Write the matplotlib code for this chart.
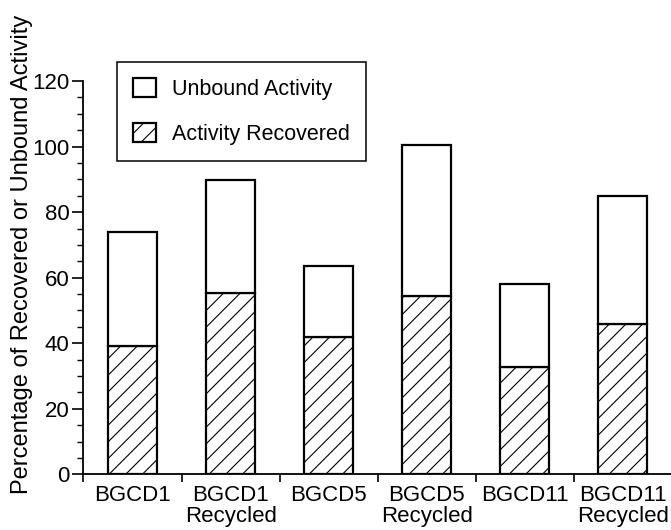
import matplotlib
matplotlib.use('Agg')
import matplotlib.pyplot as plt
from matplotlib.ticker import MultipleLocator, FixedLocator
import numpy as np

plt.rcParams['font.family'] = ['Liberation Sans', 'DejaVu Sans']
plt.rcParams['hatch.linewidth'] = 0.8

muestras = ['BGCD1', 'BGCD1\nRecycled', 'BGCD5', 'BGCD5\nRecycled',
            'BGCD11', 'BGCD11\nRecycled']
recuperada = [39.2, 55.3, 42.0, 54.5, 32.7, 45.9]
no_unida = [34.7, 34.5, 21.6, 46.0, 25.3, 39.0]

x = np.arange(1, len(muestras) + 1)

fig = plt.figure(figsize=(6.71, 5.30), dpi=100)
ax = fig.add_axes([0.1244, 0.105, 0.877, 0.742])

b1 = ax.bar(x, recuperada, width=0.5, color='white', edgecolor='black',
            linewidth=1.6, hatch='//', label='Activity Recovered')
b2 = ax.bar(x, no_unida, width=0.5, bottom=recuperada, color='white',
            edgecolor='black', linewidth=1.6, label='Unbound Activity')

ax.set_xlim(0.5, 6.5)
ax.set_ylim(0, 120)

ax.spines['top'].set_visible(False)
ax.spines['right'].set_visible(False)
ax.spines['left'].set_linewidth(1.3)
ax.spines['bottom'].set_linewidth(1.3)

ax.xaxis.set_major_locator(FixedLocator(np.arange(0.5, 7, 1)))
ax.xaxis.set_minor_locator(FixedLocator(x))
ax.set_xticklabels([])
ax.set_xticklabels(muestras, minor=True, fontsize=16, linespacing=0.95)
ax.tick_params(axis='x', which='major', direction='out', length=6, width=1.2)
ax.tick_params(axis='x', which='minor', length=0, pad=8)

ax.yaxis.set_major_locator(MultipleLocator(20))
ax.yaxis.set_minor_locator(MultipleLocator(5))
ax.tick_params(axis='y', which='major', direction='out', length=8, width=1.2,
               labelsize=16, pad=2)
ax.tick_params(axis='y', which='minor', direction='out', length=4, width=1.0)

ax.set_ylabel('Percentage of Recovered or Unbound Activity', fontsize=17)
ax.yaxis.set_label_coords(22 / 671, 1 - 254 / 530, transform=fig.transFigure)
ax.yaxis.label.set_verticalalignment('center')

leg = ax.legend(handles=[b2, b1], loc='upper left',
                bbox_to_anchor=(117 / 671, 1 - 62 / 530),
                bbox_transform=fig.transFigure, borderaxespad=0,
                fontsize=15.5, fancybox=False, framealpha=1, edgecolor='black',
                handlelength=1.05, handleheight=1.0, handletextpad=0.75,
                borderpad=0.75, labelspacing=1.05)
leg.get_frame().set_linewidth(1.1)

fig.savefig('out.png', dpi=100)
